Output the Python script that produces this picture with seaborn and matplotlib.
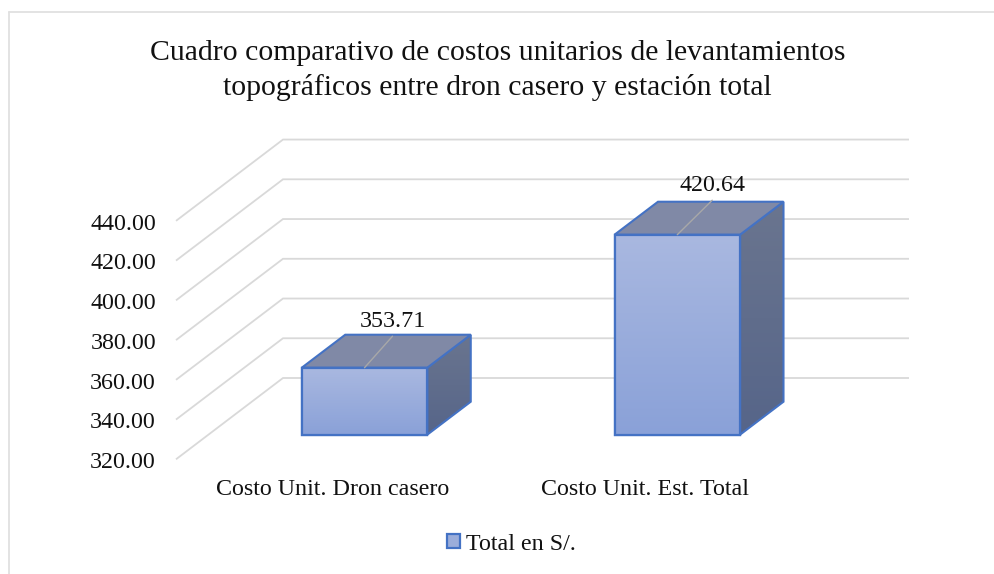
import numpy as np
import pandas as pd
import matplotlib
matplotlib.use("Agg")
import matplotlib.pyplot as plt
import seaborn as sns
from matplotlib.lines import Line2D
from matplotlib.patches import Patch, Polygon

# ---- data
categories = ["Costo Unit. Dron casero", "Costo Unit. Est. Total"]
values = [353.71, 420.64]
value_labels = ["353.71", "420.64"]
axis_ticks = [320, 340, 360, 380, 400, 420, 440]
axis_tick_labels = ["320.00", "340.00", "360.00", "380.00", "400.00", "420.00", "440.00"]
series_name = "Total en S/."
title = ("Cuadro comparativo de costos unitarios de levantamientos\n"
         "topográficos entre dron casero y estación total")

# ---- style / layout
W, H = 995, 574
EDGE = "#4472c4"
GRID = "#d9d9d9"
FRAME = "#e0e0e0"
TEXT = "#111111"
FONT = "Liberation Serif"
BASE = 320.0
PX_PER_UNIT = 1.987
PX_PER_CAT = 312.75
BASE_Y = 434.7
BAR0_X = 364.5
LABEL_SIZE = 17.3

sns.set_theme(style="white")
plt.rcParams["font.family"] = [FONT, "DejaVu Sans"]

fig = plt.figure(figsize=(W / 100, H / 100), dpi=100, facecolor="white")
AX_L, AX_R, AX_T, AX_B = 165, 915, 130, 470
ax = fig.add_axes([AX_L / W, 1 - AX_B / H, (AX_R - AX_L) / W, (AX_B - AX_T) / H])


def cx(px):
    return (px - BAR0_X) / PX_PER_CAT


def vy(py):
    return BASE + (BASE_Y - py) / PX_PER_UNIT


df = pd.DataFrame({"cat": categories, "val": values})
sns.barplot(data=df, x="cat", y="val", width=125.5 / PX_PER_CAT, color="#9badda",
            saturation=1, edgecolor=EDGE, linewidth=1.6, ax=ax, zorder=3)

# gridlines: walls of the 3D box
front_shift = (BASE_Y - 459.3) / PX_PER_UNIT
back_shift = (BASE_Y - 378.0) / PX_PER_UNIT
for t in axis_ticks:
    ax.plot([cx(176), cx(283), cx(909)],
            [t + front_shift, t + back_shift, t + back_shift],
            color=GRID, lw=1.3, zorder=1, solid_capstyle="butt", solid_joinstyle="miter")

DX = 43.5 / PX_PER_CAT
DY = 33.0 / PX_PER_UNIT


def gradient(poly, top_rgb, bottom_rgb, z):
    xs = poly[:, 0]
    ys = poly[:, 1]
    t = np.linspace(0, 1, 128)[:, None, None]
    img = (1 - t) * np.array(top_rgb)[None, None, :] + t * np.array(bottom_rgb)[None, None, :]
    clip = Polygon(poly, closed=True, transform=ax.transData, fc="none", ec="none")
    ax.add_patch(clip)
    im = ax.imshow(img, extent=[xs.min(), xs.max(), ys.min(), ys.max()], aspect="auto",
                   origin="upper", zorder=z, interpolation="bilinear")
    im.set_clip_path(clip)


def rgb(h):
    return np.array(matplotlib.colors.to_rgb(h))


bars = list(ax.patches)
for i, (p, v) in enumerate(zip(bars, values)):
    p.set_y(BASE)
    p.set_height(v - BASE)
    x0, x1 = p.get_x(), p.get_x() + p.get_width()
    # side face
    side = np.array([[x1, BASE], [x1 + DX, BASE + DY], [x1 + DX, v + DY], [x1, v]])
    gradient(side, rgb("#6a758f"), rgb("#566589"), 2.2)
    ax.add_patch(Polygon(side, closed=True, fc="none", ec=EDGE, lw=1.5, zorder=2.4))
    # top face
    top = np.array([[x0, v], [x1, v], [x1 + DX, v + DY], [x0 + DX, v + DY]])
    ax.add_patch(Polygon(top, closed=True, fc="#8089a6", ec=EDGE, lw=1.5, zorder=2.5))
    # front face
    front = np.array([[x0, BASE], [x1, BASE], [x1, v], [x0, v]])
    gradient(front, rgb("#a9b8e0"), rgb("#8aa1d8"), 3.2)
    ax.add_patch(Polygon(front, closed=True, fc="none", ec=EDGE, lw=1.6, zorder=3.4))

# data labels with leader lines
leader_dx = [28 / PX_PER_CAT, 35 / PX_PER_CAT]
leader_dy = [31.5 / PX_PER_UNIT, 34.5 / PX_PER_UNIT]
label_dx = [28.5 / PX_PER_CAT, 35.5 / PX_PER_CAT]
for i, v in enumerate(values):
    lx0 = i + 0.0
    ax.plot([lx0, lx0 + leader_dx[i]], [v, v + leader_dy[i]], color="#a8a8a8", lw=1.0, zorder=4)
    ax.text(lx0 + label_dx[i], v + leader_dy[i] + 2.1, value_labels[i], ha="center", va="bottom",
            fontsize=LABEL_SIZE, color=TEXT, family=FONT)

# axes
ax.set_xlim(cx(AX_L), cx(AX_R))
ax.set_ylim(vy(AX_B), vy(AX_T))
ax.set_yticks([t + front_shift - 0.4 for t in axis_ticks], axis_tick_labels)
ax.set_xticks([-0.1007, 0.897], categories)
ax.tick_params(axis="y", length=0, pad=6.5, labelsize=LABEL_SIZE, labelcolor=TEXT)
ax.tick_params(axis="x", length=0, pad=6.5, labelsize=LABEL_SIZE, labelcolor=TEXT)
ax.set_xlabel("")
ax.set_ylabel("")
for s in ax.spines.values():
    s.set_visible(False)
ax.patch.set_alpha(0)
ax.grid(False)

# title
fig.text(497.5 / W, 1 - 70.5 / H, title, ha="center", va="center", fontsize=21.45,
         color=TEXT, family=FONT, linespacing=1.37)

# legend
leg = ax.legend(handles=[Patch(facecolor="#9badda", edgecolor=EDGE, linewidth=1.6, label=series_name)],
                loc="center", bbox_to_anchor=(511 / W, 1 - 544 / H), bbox_transform=fig.transFigure,
                frameon=False, handlelength=0.56, handleheight=0.56, handletextpad=0.23,
                prop={"family": FONT, "size": LABEL_SIZE}, labelcolor=TEXT)

# chart frame
fig.add_artist(Line2D([9 / W, 9 / W], [0, 1 - 12 / H], color=FRAME, lw=1.3))
fig.add_artist(Line2D([9 / W, 1], [1 - 12 / H, 1 - 12 / H], color=FRAME, lw=1.3))

fig.savefig("out.png", dpi=100, facecolor="white")
